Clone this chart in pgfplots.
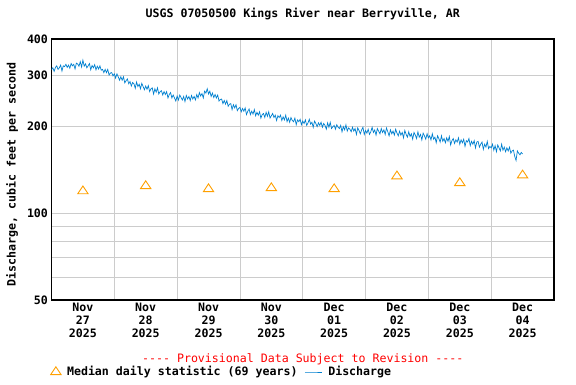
\documentclass[border=0pt]{standalone}
\usepackage{pgfplots}
\pgfplotsset{compat=1.18}
\usepackage{fontspec}
\setmonofont{DejaVu Sans Mono}
\newcommand{\cf}{\fontsize{11.6}{13}\selectfont\ttfamily\bfseries}
\definecolor{qblue}{RGB}{0,128,208}
\definecolor{qorange}{RGB}{255,160,0}
\begin{document}
\begin{tikzpicture}
\path[use as bounding box] (-51.5pt,-84pt) rectangle (524.5pt,300pt);
\begin{axis}[
  at={(0pt,0pt)}, anchor=south west,
  scale only axis, width=502.5pt, height=261pt,
  xmin=0, xmax=192, ymode=log, ymin=50, ymax=400,
  xtick={12,36,60,84,108,132,156,180},
  xticklabels={{Nov\\27\\2025},{Nov\\28\\2025},{Nov\\29\\2025},{Nov\\30\\2025},{Dec\\01\\2025},{Dec\\02\\2025},{Dec\\03\\2025},{Dec\\04\\2025}},
  xticklabel style={align=center, font=\cf},
  minor xtick={24,48,72,96,120,144,168},
  ytick={50,100,200,300,400},
  yticklabels={50,100,200,300,400},
  yticklabel style={font=\cf},
  minor ytick={60,70,80,90},
  xmajorgrids=false, xminorgrids=true, ymajorgrids=true, yminorgrids=true,
  grid style={gray!40, line width=0.8pt},
  minor grid style={gray!40, line width=0.8pt},
  major grid style={gray!40, line width=0.8pt},
  major tick length=0pt, minor tick length=0pt,
  axis line style={line width=1.2pt},
  title={USGS 07050500 Kings River near Berryville, AR},
  title style={font=\cf, at={(0.5,1)}, anchor=base, yshift=15pt},
  ylabel={Discharge, cubic feet per second},
  ylabel style={font=\cf, at={(axis description cs:-0.0786,0.481)}, anchor=center},
  legend style={draw=none, fill=none, at={(0,0)}, anchor=west, xshift=-4pt, yshift=-72pt, font=\cf, legend columns=-1,
    /tikz/every odd column/.append style={column sep=4pt},
    /tikz/every even column/.append style={column sep=5pt}},
  legend cell align=left,
]
\addplot[only marks, mark=triangle, mark size=5.2pt, qorange, mark options={xscale=1.15, line width=0.9pt}]
coordinates {(12,119) (36,124) (60,121) (84,122) (108,121) (132,134) (156,127) (180,135)};
\addlegendentry{Median daily statistic (69 years)}
\addplot[qblue, line width=0.7pt, no marks] table {
0 314
0.5 318
1 309
1.5 319
2 323
2.5 314
3 318
3.5 325
4 310
4.5 323
5 321
5.5 327
6 319
6.5 325
7 317
7.5 329
8 323
8.5 327
9 315
9.5 330
10 328
10.5 322
11 334
11.5 320
12 338
12.5 322
13 328
13.5 318
14 323
14.5 329
15 313
15.5 324
16 318
16.5 326
17 313
17.5 322
18 315
18.5 323
19 312
19.5 314
20 306
20.5 314
21 306
21.5 314
22 300
22.5 305
23 306
23.5 298
24 303
24.5 293
25 303
25.5 296
26 288
26.5 296
27 288
27.5 296
28 282
28.5 287
29 291
29.5 280
30 285
30.5 275
31 283
31.5 280
32 270
32.5 284
33 274
33.5 279
34 269
34.5 281
35 274
35.5 267
36 275
36.5 268
37 276
37.5 263
38 269
38.5 271
39 258
39.5 269
40 262
40.5 271
41 258
41.5 263
42 265
42.5 256
43 263
43.5 257
44 263
44.5 250
45 257
45.5 261
46 250
46.5 256
47 250
47.5 244
48 254
48.5 246
49 256
49.5 251
50 246
50.5 253
51 243
51.5 255
52 248
52.5 253
53 245
53.5 255
54 248
54.5 253
55 246
55.5 257
56 250
56.5 261
57 254
57.5 259
58 250
58.5 264
59 260
59.5 269
60 258
60.5 264
61 253
61.5 260
62 251
62.5 257
63 250
63.5 256
64 244
64.5 247
65 248
65.5 239
66 245
66.5 238
67 245
67.5 234
68 238
68.5 239
69 228
69.5 237
70 231
70.5 237
71 226
71.5 230
72 232
72.5 224
73 230
73.5 225
74 231
74.5 219
75 225
75.5 229
76 219
76.5 225
77 220
77.5 228
78 217
78.5 223
79 218
79.5 224
80 213
80.5 219
81 221
81.5 214
82 223
82.5 216
83 224
83.5 213
84 217
84.5 221
85 214
85.5 218
86 209
86.5 217
87 214
87.5 218
88 209
88.5 215
89 210
89.5 218
90 207
90.5 213
91 206
91.5 214
92 209
92.5 207
93 213
93.5 202
94 210
94.5 207
95 211
95.5 202
96 208
96.5 204
97 210
97.5 201
98 205
98.5 211
99 203
99.5 206
100 198
100.5 208
101 204
101.5 199
102 205
102.5 201
103 206
103.5 198
104 204
104.5 201
105 195
105.5 205
106 198
106.5 206
107 196
107.5 199
108 201
108.5 195
109 202
109.5 198
110 196
110.5 201
111 191
111.5 199
112 194
112.5 202
113 192
113.5 197
114 195
114.5 191
115 198
115.5 192
116 196
116.5 187
117 197
117.5 193
118 188
118.5 194
119 198
119.5 187
120 193
120.5 189
121 195
121.5 187
122 191
122.5 198
123 190
123.5 194
124 186
124.5 196
125 192
125.5 188
126 196
126.5 190
127 194
127.5 187
128 197
128.5 191
129 185
129.5 194
130 188
130.5 192
131 186
131.5 195
132 189
132.5 185
133 192
133.5 186
134 190
134.5 182
135 193
135.5 187
136 183
136.5 191
137 184
137.5 188
138 180
138.5 190
139 186
139.5 181
140 191
140.5 183
141 187
141.5 179
142 189
142.5 185
143 180
143.5 188
144 182
144.5 185
145 179
145.5 188
146 180
146.5 183
147 175
147.5 185
148 181
148.5 176
149 185
149.5 177
150 181
150.5 175
151 182
151.5 177
152 184
152.5 172
153 178
153.5 181
154 174
154.5 179
155 176
155.5 182
156 173
156.5 179
157 175
157.5 180
158 170
158.5 178
159 176
159.5 181
160 171
160.5 177
161 173
161.5 178
162 168
162.5 176
163 177
163.5 169
164 173
164.5 176
165 166
165.5 173
166 169
166.5 177
167 167
167.5 170
168 168
168.5 173
169 165
169.5 171
170 163
170.5 172
171 168
171.5 164
172 173
172.5 165
173 169
173.5 163
174 168
174.5 164
175 169
175.5 161
176 164
176.5 165
177 157
177.5 152
178 164
178.5 161
179 159
179.5 162
180 160
};
\addlegendentry{Discharge}
\end{axis}
\node[font=\fontsize{11.6}{13}\selectfont\ttfamily, text=red] at (251.25pt,-59pt) {---- Provisional Data Subject to Revision ----};
\end{tikzpicture}
\end{document}
